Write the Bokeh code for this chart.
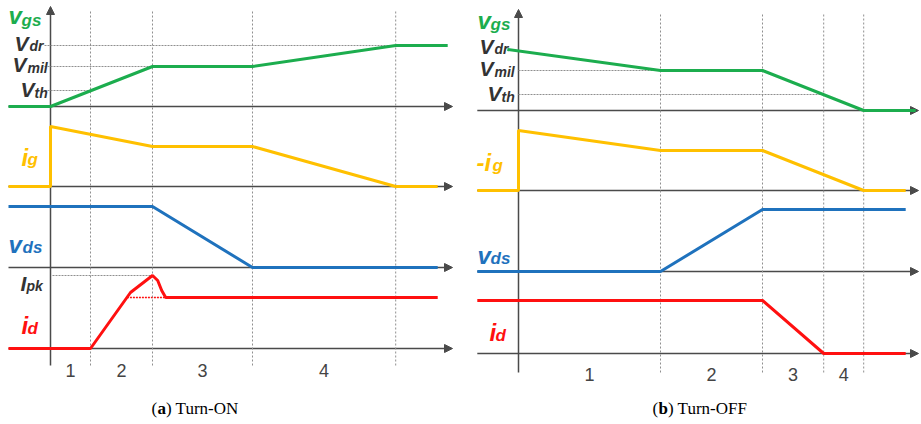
from bokeh.plotting import figure
from bokeh.models import Range1d, Arrow, NormalHead
from bokeh.layouts import row
from bokeh.core.properties import value
from bokeh.embed import file_html
from bokeh.resources import INLINE

# ---------------- data (arbitrary units) ----------------
V_TH, V_MIL, V_DR = 1.6, 4.0, 6.1
I_PK, I_LOAD = 7.3, 5.1

# (a) Turn-ON
on_phase_t = [1.0, 2.55, 5.05, 8.63]
on_phase_names = ["1", "2", "3", "4"]
on_vgs_t = [-1.05, 0.0, 2.55, 5.05, 8.63, 9.93]
on_vgs_v = [0.0, 0.0, 4.0, 4.0, 6.1, 6.1]
on_ig_t = [-1.05, 0.0, 0.0, 2.55, 5.05, 8.63, 9.68]
on_ig_v = [0.0, 0.0, 6.0, 4.0, 4.0, 0.0, 0.0]
on_vds_t = [-1.05, 2.55, 5.05, 9.68]
on_vds_v = [6.1, 6.1, 0.0, 0.0]
on_id_t = [-1.05, 1.0, 2.0, 2.55, 2.68, 2.78, 2.88, 9.68]
on_id_v = [0.0, 0.0, 5.6, 7.3, 6.8, 5.8, 5.1, 5.1]

# (b) Turn-OFF
off_phase_t = [3.55, 6.1, 7.63, 8.63]
off_phase_names = ["1", "2", "3", "4"]
off_vgs_t = [-0.28, 3.55, 6.1, 8.63, 9.93]
off_vgs_v = [6.1, 4.0, 4.0, 0.0, 0.0]
off_ig_t = [-1.03, 0.0, 0.0, 3.55, 6.1, 8.63, 9.68]
off_ig_v = [0.0, 0.0, 6.0, 4.0, 4.0, 0.0, 0.0]
off_vds_t = [-1.03, 3.55, 6.1, 9.68]
off_vds_v = [0.0, 0.0, 6.2, 6.2]
off_id_t = [-1.03, 6.1, 7.63, 9.68]
off_id_v = [5.3, 5.3, 0.0, 0.0]

# ---------------- styles ----------------
GREEN = "#1cad4e"
YELLOW = "#ffc000"
BLUE = "#1f72bd"
RED = "#ff1010"
AXIS = "#4a4a4a"
DOT = "#8f8f8f"
LABEL = "#333333"
SANS = "Liberation Sans"
SERIF = "Liberation Serif"
PXT = 40.0   # px per time unit
PXV = 10.0   # px per level unit
H = 424


def make_panel(width, axis_px, offset_px):
    p = figure(width=width, height=H, output_backend="svg", toolbar_location=None,
               x_axis_type=None, y_axis_type=None, min_border=0,
               x_range=Range1d(-axis_px / PXT, (width - axis_px) / PXT),
               y_range=Range1d(0, H / PXV))
    p.outline_line_color = None
    p.grid.visible = False
    p.background_fill_color = "white"
    p.border_fill_color = "white"
    p._axis_px = axis_px
    p._off = offset_px
    return p


def tx(p, px):
    return (px - p._off - p._axis_px) / PXT


def ty(py):
    return (H - py) / PXV


def txt(p, px, py, s, color, size, style="bold italic", font=SANS, align="left"):
    # py is the wanted baseline; compensate for the descent offset
    yb = py - 0.21 * size
    p.text(x=[tx(p, px)], y=[ty(yb)], text=[s], text_color=color,
           text_font=value(font), text_font_size=f"{size}px",
           text_font_style=style, text_align=align, text_baseline="alphabetic")


def arrow(p, x0, y0, x1, y1):
    p.add_layout(Arrow(end=NormalHead(size=8, fill_color=AXIS, line_color=AXIS),
                       x_start=x0, y_start=y0, x_end=x1, y_end=y1,
                       line_color=AXIS, line_width=1.5, level="underlay"))


def build(p, bases, phase_t, phase_names, waves, axis_top, axis_bot, ax_x0, ax_x1, num_py):
    for t in phase_t:
        p.segment(x0=[t], y0=[axis_bot], x1=[t], y1=[axis_top - 0.3],
                  line_color=DOT, line_dash="2 2", line_width=1)
    arrow(p, 0, axis_bot, 0, axis_top)
    for b in bases:
        arrow(p, ax_x0, b, ax_x1, b)
    edges = [0.0] + list(phase_t)
    mids = [(edges[i] + edges[i + 1]) / 2 for i in range(len(phase_t))]
    p.text(x=mids, y=[ty(num_py - 0.21 * 18)] * len(mids), text=phase_names,
           text_color="#444444", text_font=value(SANS), text_font_size="18px",
           text_align="center", text_baseline="alphabetic")
    for t, v, base, col in waves:
        p.line(x=t, y=[base + vv for vv in v], line_color=col, line_width=3)


# ---------------- (a) Turn-ON ----------------
L = make_panel(462, 50, 0)
Lb = [ty(106), ty(186), ty(267), ty(348)]
L.segment(x0=[-0.15, -0.15, -0.15], y0=[Lb[0] + V_DR, Lb[0] + V_MIL, Lb[0] + V_TH],
          x1=[on_phase_t[3], on_phase_t[1], on_phase_t[0]],
          y1=[Lb[0] + V_DR, Lb[0] + V_MIL, Lb[0] + V_TH],
          line_color=DOT, line_dash="2 1", line_width=1)
L.segment(x0=[0.05], y0=[Lb[3] + I_PK], x1=[on_phase_t[1]], y1=[Lb[3] + I_PK],
          line_color=DOT, line_dash="2 1", line_width=1)
L.segment(x0=[1.91], y0=[Lb[3] + I_LOAD], x1=[2.88], y1=[Lb[3] + I_LOAD],
          line_color=RED, line_dash="2 1", line_width=1.5)
build(L, Lb, on_phase_t, on_phase_names,
      [(on_vgs_t, on_vgs_v, Lb[0], GREEN), (on_ig_t, on_ig_v, Lb[1], YELLOW),
       (on_vds_t, on_vds_v, Lb[2], BLUE), (on_id_t, on_id_v, Lb[3], RED)],
      ty(6), ty(365), -1.05, 10.05, 374)

txt(L, 8, 20, "v", GREEN, 24)
txt(L, 21, 24, "gs", GREEN, 17)
txt(L, 14, 47, "V", LABEL, 21)
txt(L, 29, 48, "dr", LABEL, 14)
txt(L, 12, 68, "V", LABEL, 21)
txt(L, 27, 70, "mil", LABEL, 14)
txt(L, 20, 93, "V", LABEL, 21)
txt(L, 34, 95, "th", LABEL, 14)
txt(L, 21, 162, "i", YELLOW, 24)
txt(L, 27, 163, "g", YELLOW, 17)
txt(L, 8, 249, "v", BLUE, 24)
txt(L, 22, 251, "ds", BLUE, 17)
txt(L, 20, 287, "I", LABEL, 21)
txt(L, 26, 288, "pk", LABEL, 14)
txt(L, 21, 330, "i", RED, 24)
txt(L, 27, 332, "d", RED, 17)

txt(L, 151, 412, "(", "black", 17, "normal", SERIF)
txt(L, 157, 412, "a", "black", 17, "bold", SERIF)
txt(L, 165.5, 412, ") Turn-ON", "black", 17, "normal", SERIF)

# ---------------- (b) Turn-OFF ----------------
R = make_panel(459, 56, 462)
Rb = [ty(110), ty(190), ty(271), ty(353)]
R.segment(x0=[0.0, 0.0], y0=[Rb[0] + V_MIL, Rb[0] + V_TH],
          x1=[off_phase_t[0], off_phase_t[2]], y1=[Rb[0] + V_MIL, Rb[0] + V_TH],
          line_color=DOT, line_dash="2 1", line_width=1)
build(R, Rb, off_phase_t, off_phase_names,
      [(off_vgs_t, off_vgs_v, Rb[0], GREEN), (off_ig_t, off_ig_v, Rb[1], YELLOW),
       (off_vds_t, off_vds_v, Rb[2], BLUE), (off_id_t, off_id_v, Rb[3], RED)],
      ty(9), ty(372), -1.03, 10.0, 378)

txt(R, 477, 25, "v", GREEN, 24)
txt(R, 490, 28, "gs", GREEN, 17)
txt(R, 479, 50, "V", LABEL, 21)
txt(R, 494, 51, "dr", LABEL, 14)
txt(R, 479, 72, "V", LABEL, 21)
txt(R, 494, 74, "mil", LABEL, 14)
txt(R, 487, 97, "V", LABEL, 21)
txt(R, 501, 99, "th", LABEL, 14)
txt(R, 476, 167, "-i", YELLOW, 24)
txt(R, 492, 169, "g", YELLOW, 17)
txt(R, 477, 260, "v", BLUE, 24)
txt(R, 490, 262, "ds", BLUE, 17)
txt(R, 489, 337, "i", RED, 24)
txt(R, 495, 339, "d", RED, 17)

txt(R, 652, 412, "(", "black", 17, "normal", SERIF)
txt(R, 658, 412, "b", "black", 17, "bold", SERIF)
txt(R, 667.5, 412, ") Turn-OFF", "black", 17, "normal", SERIF)

layout = row(L, R, spacing=0)
open("out.html", "w").write(file_html(layout, INLINE))
